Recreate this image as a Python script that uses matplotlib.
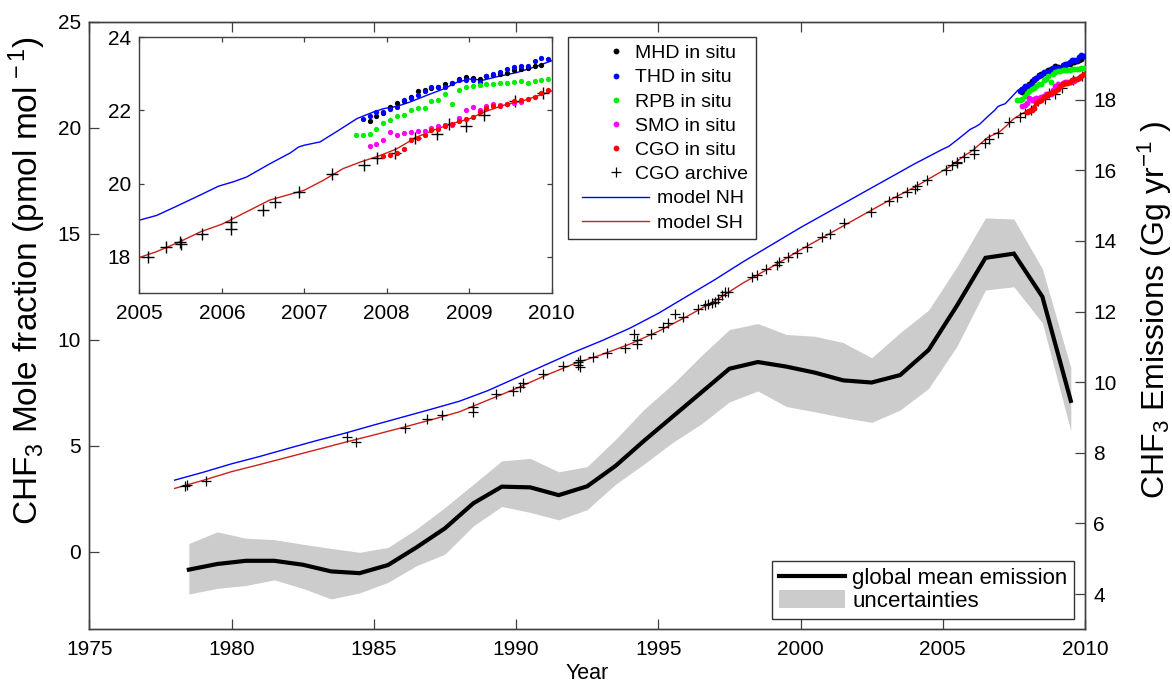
import numpy as np
import matplotlib
matplotlib.use('Agg')
import matplotlib.pyplot as plt
from matplotlib.patches import Patch
from matplotlib.lines import Line2D
from matplotlib.legend_handler import HandlerBase

plt.rcParams['font.family'] = ['Liberation Sans', 'DejaVu Sans']
plt.rcParams['mathtext.fontset'] = 'custom'
plt.rcParams['mathtext.rm'] = 'Liberation Sans'
plt.rcParams['mathtext.it'] = 'Liberation Sans:italic'
plt.rcParams['mathtext.bf'] = 'Liberation Sans:bold'

# ---------------- data ----------------
model_years = [1978, 1979, 1980, 1981, 1982, 1983, 1984, 1985, 1986, 1987, 1988,
               1989, 1990, 1991, 1992, 1993, 1994, 1995, 1996, 1997, 1998, 1999,
               2000, 2001, 2002, 2003, 2004,
               2005.0, 2005.21, 2005.45, 2005.74, 2005.96, 2006.14, 2006.30, 2006.58,
               2006.83, 2006.93, 2007.0, 2007.19, 2007.39, 2007.64, 2007.84, 2007.96,
               2008.12, 2008.28, 2008.48, 2008.69, 2008.85, 2009.0, 2009.17, 2009.33,
               2009.58, 2009.78, 2010.0]
model_nh = [3.38, 3.75, 4.15, 4.5, 4.88, 5.25, 5.6, 5.98, 6.35, 6.72, 7.1,
            7.6, 8.2, 8.8, 9.4, 9.95, 10.55, 11.25, 12.05, 12.85, 13.7, 14.5,
            15.3, 16.05, 16.8, 17.55, 18.3,
            19.0, 19.13, 19.38, 19.69, 19.93, 20.05, 20.18, 20.54,
            20.84, 21.0, 21.05, 21.14, 21.42, 21.78, 21.96, 22.05,
            22.11, 22.23, 22.41, 22.59, 22.77, 22.86, 22.83, 22.92,
            23.04, 23.18, 23.36]

model_years_sh = [1978, 1979, 1980, 1981, 1982, 1983, 1984, 1985, 1986, 1987, 1988,
                  1989, 1990, 1991, 1992, 1993, 1994, 1995, 1996, 1997, 1998, 1999,
                  2000, 2001, 2002, 2003, 2004,
                  2005.0, 2005.21, 2005.49, 2005.74, 2006.0, 2006.1, 2006.30, 2006.58,
                  2006.83, 2007.0, 2007.23, 2007.47, 2007.68, 2007.92, 2008.12, 2008.36,
                  2008.61, 2008.85, 2009.0, 2009.17, 2009.41, 2009.66, 2010.0]
model_sh = [2.99, 3.37, 3.78, 4.12, 4.47, 4.82, 5.17, 5.51, 5.86, 6.22, 6.6,
            7.15, 7.7, 8.3, 8.85, 9.3, 9.8, 10.4, 11.1, 11.85, 12.7, 13.45,
            14.25, 15.0, 15.75, 16.5, 17.2,
            17.98, 18.14, 18.41, 18.68, 18.89, 19.0, 19.23, 19.55,
            19.71, 19.82, 20.09, 20.41, 20.59, 20.77, 20.95, 21.27,
            21.5, 21.68, 21.77, 21.95, 22.14, 22.27, 22.53]

archive_years = [1978.36, 1978.44, 1979.1, 1984.05, 1984.37, 1986.1, 1986.86, 1987.39,
                 1988.48, 1988.48, 1989.3, 1989.88, 1990.14, 1990.26, 1990.96, 1991.64,
                 1992.19, 1992.19, 1992.25, 1992.25, 1992.72, 1993.19, 1993.83, 1994.15,
                 1994.24, 1994.24, 1994.73, 1995.18, 1995.35, 1995.59, 1995.88, 1996.41,
                 1996.64, 1996.76, 1996.88, 1996.99, 1997.11, 1997.23, 1997.34, 1997.46,
                 1998.28, 1998.46, 1998.79, 1999.16, 1999.25, 1999.57, 1999.89, 2000.22,
                 2000.74, 2001.04, 2001.53, 2002.47, 2003.12, 2003.38, 2003.73, 2004.02,
                 2004.08, 2004.43,
                 2005.11, 2005.32, 2005.49, 2005.5, 2005.76, 2006.11, 2006.11, 2006.5,
                 2006.64, 2006.94, 2007.34, 2007.72, 2007.88, 2008.1, 2008.34, 2008.61,
                 2008.75, 2008.96, 2009.18, 2009.56, 2009.89]
archive_vals = [3.1, 3.15, 3.34, 5.43, 5.19, 5.82, 6.25, 6.45,
                6.84, 6.61, 7.44, 7.6, 7.76, 7.95, 8.37, 8.76,
                8.97, 8.81, 9.05, 8.73, 9.2, 9.39, 9.63, 10.27,
                9.99, 9.8, 10.27, 10.62, 10.78, 11.22, 11.09, 11.44,
                11.64, 11.69, 11.75, 11.8, 11.91, 12.11, 12.27, 12.27,
                12.95, 13.06, 13.33, 13.53, 13.69, 13.89, 14.11, 14.39,
                14.84, 14.99, 15.53, 16.05, 16.56, 16.75, 16.99, 17.1,
                17.26, 17.54,
                18.0, 18.27, 18.4, 18.34, 18.61, 18.95, 18.75, 19.27,
                19.49, 19.76, 20.27, 20.52, 20.7, 20.84, 21.25, 21.36,
                21.64, 21.58, 21.88, 22.27, 22.47]

# in situ monthly means (first month index counted from Jan 2007)
mhd_start, mhd_vals = 9, [21.7, 21.84, 21.93, 22.09, 22.2, 22.25, 22.38, 22.52, 22.55,
                          22.61, 22.64, 22.72, 22.76, 22.85, 22.91, 22.88, 22.85, 22.93,
                          22.97, 23.0, 23.02, 23.11, 23.13, 23.15, 23.22, 23.25]
thd_start, thd_vals = 8, [21.76, 21.84, 21.97, 21.95, 22.04, 22.09, 22.29, 22.34, 22.43,
                          22.52, 22.64, 22.64, 22.64, 22.75, 22.84, 22.84, 22.84, 22.79,
                          22.95, 23.0, 23.04, 23.13, 23.2, 23.22, 23.22, 23.36, 23.43, 23.4]
rpb_start, rpb_vals = 7, [21.34, 21.34, 21.36, 21.49, 21.65, 21.75, 21.85, 21.88, 22.0,
                          22.06, 22.06, 22.27, 22.29, 22.45, 22.18, 22.56, 22.65, 22.67,
                          22.69, 22.73, 22.73, 22.75, 22.75, 22.78, 22.8, 22.76, 22.8,
                          22.84, 22.85]
smo_start, smo_vals = 9, [21.04, 21.09, 21.18, 21.4, 21.34, 21.38, 21.4, 21.43, 21.45,
                          21.52, 21.58, 21.61, 21.61, 21.79, 22.0, 22.09, 22.0, 22.13,
                          22.18, 22.15, 22.18, 22.2, 22.22]
cgo_start, cgo_vals = 11, [20.75, 20.79, 20.85, 20.95, 21.2, 21.25, 21.34, 21.47, 21.49,
                           21.58, 21.64, 21.7, 21.76, 21.82, 21.97, 22.06, 22.11, 22.13,
                           22.18, 22.25, 22.29, 22.31, 22.38, 22.47, 22.55]

emis_years = [1978.5, 1979.5, 1980.5, 1981.5, 1982.5, 1983.5, 1984.5, 1985.5, 1986.5,
              1987.5, 1988.5, 1989.5, 1990.5, 1991.5, 1992.5, 1993.5, 1994.5, 1995.5,
              1996.5, 1997.5, 1998.5, 1999.5, 2000.5, 2001.5, 2002.5, 2003.5, 2004.5,
              2005.5, 2006.5, 2007.5, 2008.5, 2009.5]
emis_mean = [4.69, 4.85, 4.94, 4.94, 4.83, 4.64, 4.59, 4.82, 5.32, 5.86, 6.57, 7.04,
             7.02, 6.8, 7.05, 7.63, 8.34, 9.02, 9.7, 10.38, 10.57, 10.44, 10.27, 10.05,
             9.99, 10.2, 10.91, 12.17, 13.52, 13.64, 12.42, 9.47]
emis_upper = [5.43, 5.76, 5.58, 5.54, 5.41, 5.29, 5.18, 5.32, 5.84, 6.45, 7.11, 7.77,
              7.84, 7.46, 7.61, 8.38, 9.23, 9.94, 10.74, 11.49, 11.66, 11.35, 11.3, 11.12,
              10.69, 11.4, 12.04, 13.27, 14.65, 14.62, 13.21, 10.41]
emis_lower = [4.0, 4.16, 4.24, 4.4, 4.16, 3.86, 4.03, 4.33, 4.8, 5.13, 5.93, 6.48,
              6.31, 6.1, 6.39, 7.11, 7.68, 8.29, 8.81, 9.44, 9.75, 9.31, 9.16, 9.0,
              8.86, 9.21, 9.82, 11.02, 12.61, 12.7, 11.68, 8.62]

main_xticks = [1975, 1980, 1985, 1990, 1995, 2000, 2005, 2010]
left_yticks = [0, 5, 10, 15, 20, 25]
right_yticks = [4, 6, 8, 10, 12, 14, 16, 18]
inset_xticks = [2005, 2006, 2007, 2008, 2009, 2010]
inset_yticks = [18, 20, 22, 24]


def month_years(start, vals):
    return 2007 + (start + np.arange(len(vals)) + 0.5) / 12.0


stations = [
    ('MHD in situ', 'black', mhd_start, mhd_vals),
    ('THD in situ', '#0000ff', thd_start, thd_vals),
    ('RPB in situ', '#00ee00', rpb_start, rpb_vals),
    ('SMO in situ', '#ff00ff', smo_start, smo_vals),
    ('CGO in situ', '#ff0000', cgo_start, cgo_vals),
]

BLUE = '#0000ff'
RED = '#cc1f1a'
GRAY = '#cccccc'
SPINE = '#404040'
TICKFS = 15


class PlacedHandler(HandlerBase):
    """Legend handle drawn at fixed offsets (points) inside the handle box."""
    def __init__(self, x0pt, x1pt=None, **kw):
        super().__init__(**kw)
        self.x0pt = x0pt
        self.x1pt = x1pt

    def create_artists(self, legend, orig_handle, xdescent, ydescent, width,
                       height, fontsize, trans):
        y = height / 2.0 - ydescent
        if self.x1pt is None:
            xs, ys = [self.x0pt - xdescent], [y]
        else:
            xs, ys = [self.x0pt - xdescent, self.x1pt - xdescent], [y, y]
        art = Line2D(xs, ys)
        art.update_from(orig_handle)
        art.set_transform(trans)
        return [art]


# ---------------- figure ----------------
fig = plt.figure(figsize=(11.72, 6.85), dpi=100)
ax = fig.add_axes([0.0762, 0.0813, 0.8496, 0.8866])
ax2 = ax.twinx()

# emissions (right axis)
ax2.fill_between(emis_years, emis_lower, emis_upper, color=GRAY, lw=0, zorder=1)
ax2.plot(emis_years, emis_mean, color='black', lw=3, zorder=2, solid_joinstyle='miter')
ax2.set_ylim(3.0, 20.2)
ax2.set_yticks(right_yticks)

# mole fractions (left axis)
ax.plot(model_years, model_nh, color=BLUE, lw=1.0, zorder=3)
ax.plot(model_years_sh, model_sh, color=RED, lw=1.0, zorder=3)
ax.plot(archive_years, archive_vals, ls='none', marker='+', color='black', ms=7, mew=0.9, zorder=4)
for name, col, st, vals in stations:
    ax.plot(month_years(st, vals), vals, ls='none', marker='o', color=col, ms=4.2, mew=0, zorder=5)
ax.set_xlim(1975, 2010)
ax.set_ylim(-3.66, 25)
ax.set_xticks(main_xticks)
ax.set_yticks(left_yticks)

ax.set_zorder(ax2.get_zorder() + 1)
ax.patch.set_visible(False)

for a in (ax, ax2):
    for s in a.spines.values():
        s.set_color(SPINE)
        s.set_linewidth(1.0)
ax.tick_params(axis='both', which='both', direction='in', length=7, width=0.9,
               colors='black', labelsize=TICKFS, pad=6, top=True, right=False)
ax.tick_params(axis='x', pad=8)
ax2.tick_params(axis='y', direction='in', length=7, width=0.9, labelsize=TICKFS, pad=6)
for a in (ax, ax2):
    a.tick_params(color=SPINE)

ax.set_xlabel('Year', fontsize=15.5)
ax.xaxis.set_label_coords(0.5, -0.056)
ax.set_ylabel(r'CHF$_3$ Mole fraction (pmol mol$^{\,-1}$)', fontsize=24)
ax.yaxis.set_label_coords(-0.041, 0.5735)
ax2.set_ylabel(r'CHF$_3$ Emissions (Gg yr$^{-1}$ )', fontsize=23)
ax2.yaxis.set_label_coords(1.051, 0.526)

# ---------------- inset ----------------
ins = fig.add_axes([0.1189, 0.5718, 0.3519, 0.3737])
ins.plot(model_years, model_nh, color=BLUE, lw=1.0)
ins.plot(model_years_sh, model_sh, color=RED, lw=1.0)
ins.plot(archive_years, archive_vals, ls='none', marker='+', color='black', ms=8, mew=1.0)
for name, col, st, vals in stations:
    ins.plot(month_years(st, vals), vals, ls='none', marker='o', color=col, ms=3.8, mew=0)
ins.set_xlim(2005, 2010)
ins.set_ylim(17, 24)
ins.set_xticks(inset_xticks)
ins.set_yticks(inset_yticks)
for s in ins.spines.values():
    s.set_color(SPINE)
    s.set_linewidth(1.0)
ins.tick_params(axis='both', direction='in', length=3.5, width=0.9, color=SPINE,
                labelsize=TICKFS, top=True, right=True, pad=6)
ins.tick_params(axis='x', pad=8)

# ---------------- legends ----------------
h1 = [Line2D([], [], ls='none', marker='o', color=c, ms=4.2, mew=0) for _, c, _, _ in stations]
h1.append(Line2D([], [], ls='none', marker='+', color='black', ms=7, mew=0.9))
h1.append(Line2D([], [], color=BLUE, lw=1.0))
h1.append(Line2D([], [], color=RED, lw=1.0))
labels1 = [s[0] for s in stations] + ['CGO archive', 'model NH', 'model SH']
hmap = {h: PlacedHandler(28.7) for h in h1[:6]}
hmap.update({h: PlacedHandler(4.0, 52.5) for h in h1[6:]})
leg1 = fig.legend(h1, labels1, loc='upper left', bbox_to_anchor=(0.4849, 0.9464),
                  bbox_transform=fig.transFigure, borderaxespad=0, fontsize=14,
                  handlelength=2.63, handletextpad=0.4, labelspacing=0.34,
                  borderpad=0.4, fancybox=False, framealpha=1, edgecolor='#333333',
                  handler_map=hmap)
leg1.get_frame().set_linewidth(1.0)
for t in leg1.get_texts()[6:]:
    t.set_x(22)

h2 = [Line2D([], [], color='black', lw=3), Patch(facecolor=GRAY, edgecolor='none')]
leg2 = fig.legend(h2, ['global mean emission', 'uncertainties'], loc='lower right',
                  bbox_to_anchor=(0.9164, 0.0968), bbox_transform=fig.transFigure,
                  borderaxespad=0, fontsize=16, handlelength=3.0, handleheight=0.85,
                  handletextpad=0.3, labelspacing=0.05, borderpad=0.3,
                  fancybox=False, framealpha=1, edgecolor='#333333')
leg2.get_frame().set_linewidth(1.0)

fig.savefig('out.png', dpi=100)
